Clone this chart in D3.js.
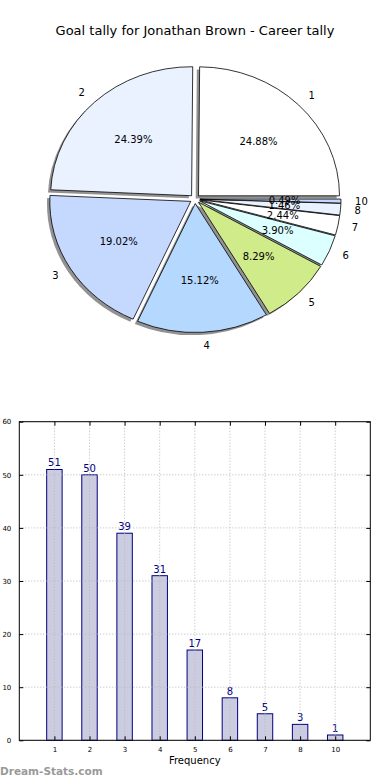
<!DOCTYPE html>
<html>
<head>
<meta charset="utf-8">
<script src="https://cdn.jsdelivr.net/npm/d3@7"></script>
<style>
  body { margin: 0; background: #fff; }
  svg { display: block; font-family: "DejaVu Sans", sans-serif; }
</style>
</head>
<body>
<svg id="chart" width="390" height="780"></svg>
<script>
// career goal tally: how many games with N goals
const categories = ["1", "2", "3", "4", "5", "6", "7", "8", "10"];
const games = [51, 50, 39, 31, 17, 8, 5, 3, 1];
const sliceColors = ["#ffffff", "#eaf2ff", "#c5d9ff", "#b5d8ff", "#d0eb8a", "#dcffff"];
const yTicks = [0, 10, 20, 30, 40, 50, 60];

const svg = d3.select("#chart");

svg.append("text")
    .attr("x", 195).attr("y", 35)
    .attr("text-anchor", "middle")
    .attr("font-size", 13)
    .attr("fill", "#000")
    .text("Goal tally for Jonathan Brown - Career tally");

// ---- pie (matplotlib style: starts at 3 o'clock, counter clockwise, elliptical axes)
const cx = 195, cy = 199, rx = 141, ry = 129, explode = 0.035;
const total = d3.sum(games);

const pie = d3.pie().sort(null)
    .startAngle(Math.PI / 2)
    .endAngle(Math.PI / 2 - 2 * Math.PI);
const arcs = pie(games);
const arc = d3.arc().innerRadius(0).outerRadius(1);

function offset(d, k) {
    let a = (d.startAngle + d.endAngle) / 2;
    return [k * rx * Math.sin(a), -k * ry * Math.cos(a)];
}

let pieG = svg.append("g");

// shadows first
pieG.selectAll(".shadow")
    .data(arcs)
    .enter().append("path")
    .attr("class", "shadow")
    .attr("transform", function (d) {
        let o = offset(d, explode);
        return "translate(" + (cx + o[0] - 2.8) + "," + (cy + o[1] + 2.6) + ") scale(" + rx + "," + ry + ")";
    })
    .attr("d", arc)
    .attr("fill", "#7f7f7f")
    .attr("fill-opacity", 0.85);

pieG.selectAll(".slice")
    .data(arcs)
    .enter().append("path")
    .attr("class", "slice")
    .attr("transform", function (d) {
        let o = offset(d, explode);
        return "translate(" + (cx + o[0]) + "," + (cy + o[1]) + ") scale(" + rx + "," + ry + ")";
    })
    .attr("d", arc)
    .attr("fill", function (d, i) { return sliceColors[i % sliceColors.length]; })
    .attr("stroke", "#000")
    .attr("stroke-width", 0.8)
    .attr("vector-effect", "non-scaling-stroke");

// category labels at 1.1 radius
pieG.selectAll(".cat")
    .data(arcs)
    .enter().append("text")
    .attr("class", "cat")
    .attr("x", function (d) { return cx + offset(d, explode + 1.1)[0]; })
    .attr("y", function (d) { return cy + offset(d, explode + 1.1)[1]; })
    .attr("dy", "0.35em")
    .attr("text-anchor", function (d) {
        return Math.sin((d.startAngle + d.endAngle) / 2) > 0 ? "start" : "end";
    })
    .attr("font-size", 10)
    .text(function (d, i) { return categories[i]; });

// percentage labels at 0.6 radius
pieG.selectAll(".pct")
    .data(arcs)
    .enter().append("text")
    .attr("class", "pct")
    .attr("x", function (d) { return cx + offset(d, explode + 0.6)[0]; })
    .attr("y", function (d) { return cy + offset(d, explode + 0.6)[1]; })
    .attr("dy", "0.35em")
    .attr("text-anchor", "middle")
    .attr("font-size", 10)
    .text(function (d) { return (d.value / total * 100).toFixed(2) + "%"; });

// ---- bar chart
const plotLeft = 19.3, plotRight = 370.3, plotTop = 421.7, plotBottom = 740.3;
const x = d3.scaleLinear().domain([0, 10]).range([plotLeft, plotRight]);
const y = d3.scaleLinear().domain([0, 60]).range([plotBottom, plotTop]);
const barW = x(0.44) - x(0);

let bars = svg.append("g");

bars.selectAll("rect")
    .data(games)
    .enter().append("rect")
    .attr("x", function (d, i) { return x(i + 1) - barW / 2; })
    .attr("y", function (d) { return y(d); })
    .attr("width", barW)
    .attr("height", function (d) { return y(0) - y(d); })
    .attr("fill", "#cccce0")
    .attr("stroke", "#000080")
    .attr("stroke-width", 1);

// grid on top of the bars
let grid = svg.append("g")
    .attr("stroke", "#b8b8b8")
    .attr("stroke-width", 1)
    .attr("stroke-dasharray", "1,2");
grid.selectAll(".vx")
    .data(categories)
    .enter().append("line")
    .attr("x1", function (d, i) { return x(i + 1); })
    .attr("x2", function (d, i) { return x(i + 1); })
    .attr("y1", plotTop).attr("y2", plotBottom);
grid.selectAll(".hy")
    .data(yTicks)
    .enter().append("line")
    .attr("x1", plotLeft).attr("x2", plotRight)
    .attr("y1", function (d) { return y(d); })
    .attr("y2", function (d) { return y(d); });

// value labels
bars.selectAll(".val")
    .data(games)
    .enter().append("text")
    .attr("x", function (d, i) { return x(i + 1); })
    .attr("y", function (d) { return y(d) - 3; })
    .attr("text-anchor", "middle")
    .attr("font-size", 10)
    .attr("fill", "#000080")
    .text(function (d) { return d; });

// axes (ticks inward like matplotlib)
let xAxis = d3.axisBottom(x)
    .tickValues(d3.range(1, categories.length + 1))
    .tickFormat(function (d) { return categories[d - 1]; })
    .tickSizeInner(-4).tickSizeOuter(0).tickPadding(7);
let gx = svg.append("g")
    .attr("transform", "translate(0," + plotBottom + ")")
    .call(xAxis);

let yAxis = d3.axisLeft(y)
    .tickValues(yTicks)
    .tickSizeInner(-4).tickSizeOuter(0).tickPadding(8);
let gy = svg.append("g")
    .attr("transform", "translate(" + plotLeft + ",0)")
    .call(yAxis);

let gxTop = svg.append("g")
    .attr("transform", "translate(0," + plotTop + ")")
    .call(d3.axisTop(x).tickValues(d3.range(1, categories.length + 1)).tickFormat("").tickSizeInner(-4).tickSizeOuter(0));
let gyRight = svg.append("g")
    .attr("transform", "translate(" + plotRight + ",0)")
    .call(d3.axisRight(y).tickValues(yTicks).tickFormat("").tickSizeInner(-4).tickSizeOuter(0));

[gx, gy, gxTop, gyRight].forEach(function (g) {
    g.select(".domain").remove();
    g.selectAll("text").attr("font-size", 7).attr("font-family", "DejaVu Sans, sans-serif").attr("fill", "#000");
    g.selectAll("line").attr("stroke", "#000");
});

svg.append("rect")
    .attr("x", plotLeft).attr("y", plotTop)
    .attr("width", plotRight - plotLeft).attr("height", plotBottom - plotTop)
    .attr("fill", "none")
    .attr("stroke", "#000")
    .attr("stroke-width", 1);

svg.append("text")
    .attr("x", (plotLeft + plotRight) / 2).attr("y", 764)
    .attr("text-anchor", "middle")
    .attr("font-size", 10)
    .text("Frequency");

svg.append("text")
    .attr("x", 0).attr("y", 775)
    .attr("font-size", 10.5)
    .attr("font-weight", "bold")
    .attr("fill", "#9a9a9a")
    .text("Dream-Stats.com");
</script>
</body>
</html>
